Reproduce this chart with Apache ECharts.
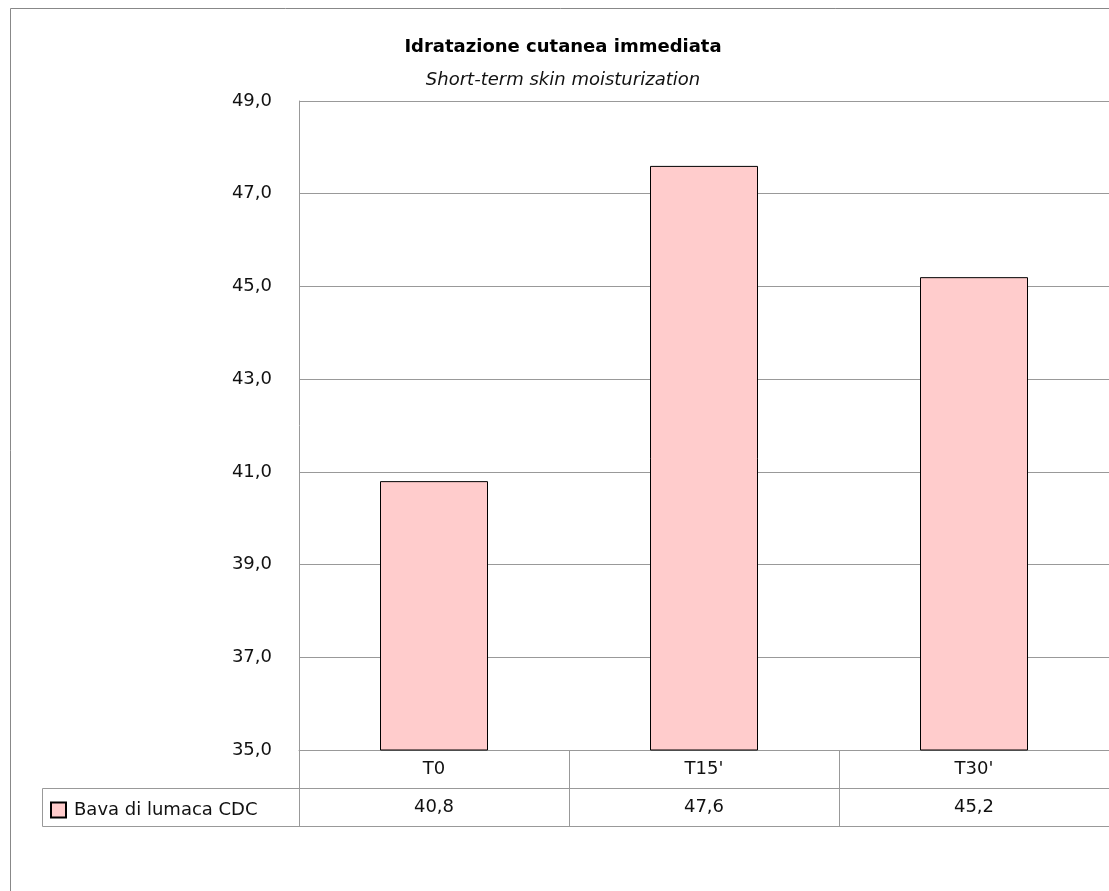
<!DOCTYPE html>
<html><head><meta charset="utf-8">
<script src="https://cdn.jsdelivr.net/npm/echarts@6/dist/echarts.min.js"></script>
<style>html,body{margin:0;padding:0;background:#fff}#c{width:1109px;height:891px}</style>
</head><body><div id="c"></div>
<script>
const titleText = 'Idratazione cutanea immediata';
const subtitleText = 'Short-term skin moisturization';
const seriesName = 'Bava di lumaca CDC';
const categories = ['T0', "T15'", "T30'"];
const values = [40.8, 47.6, 45.2];
const yMin = 35, yMax = 49, yStep = 2;
const fmt = v => v.toFixed(1).replace('.', ',');
const font = 'DejaVu Sans';
const fs = 18;

const chart = echarts.init(document.getElementById('c'));
chart.setOption({
  animation: false,
  backgroundColor: '#fff',
  title: [
    {text: titleText, left: 563, top: 37, textAlign: 'center', padding: 0,
     textStyle: {fontFamily: font, fontSize: fs, fontWeight: 'bold', color: '#000', lineHeight: 20}},
    {text: subtitleText, left: 563, top: 70, textAlign: 'center', padding: 0,
     textStyle: {fontFamily: font, fontSize: fs, fontStyle: 'italic', fontWeight: 'normal', color: '#111', lineHeight: 20}}
  ],
  legend: {
    left: 50, top: 801, padding: 0, icon: 'rect', itemWidth: 15, itemHeight: 15, itemGap: 4,
    textStyle: {fontFamily: font, fontSize: fs, color: '#111', padding: [0,0,0,3]},
    data: [seriesName]
  },
  grid: {left: 299, top: 101, width: 813, bottom: 141, containLabel: false},
  xAxis: [
    {type: 'category', data: categories, position: 'bottom',
     axisLine: {show: true, lineStyle: {color: '#999'}},
     axisTick: {show: true, length: 76, lineStyle: {color: '#999'}},
     axisLabel: {margin: 10, fontFamily: font, fontSize: fs, color: '#111'}},
    {type: 'category', data: values.map(fmt), position: 'bottom', offset: 38,
     axisLine: {show: true, lineStyle: {color: '#999'}},
     axisTick: {show: false},
     axisLabel: {margin: 10, fontFamily: font, fontSize: fs, color: '#111'}},
    {type: 'category', data: categories, position: 'bottom', offset: 76,
     axisLine: {show: true, lineStyle: {color: '#999'}},
     axisTick: {show: false}, axisLabel: {show: false}}
  ],
  yAxis: {
    type: 'value', min: yMin, max: yMax, interval: yStep,
    axisLine: {show: true, lineStyle: {color: '#999'}},
    axisTick: {show: false},
    axisLabel: {margin: 27, fontFamily: font, fontSize: fs, color: '#111', formatter: fmt},
    splitLine: {show: true, lineStyle: {color: '#999', width: 1}}
  },
  series: [{
    name: seriesName, type: 'bar', data: values, barWidth: '40%',
    itemStyle: {color: '#FFCCCC', borderColor: '#000', borderWidth: 1}
  }],
  graphic: [
    {type: 'rect', shape: {x: 10.5, y: 8.5, width: 1200, height: 1000},
     style: {fill: 'none', stroke: '#888', lineWidth: 1}, z: -10},
    {type: 'rect', shape: {x: 42.5, y: 788.5, width: 257, height: 38},
     style: {fill: 'none', stroke: '#999', lineWidth: 1}, z: -5}
  ]
});
</script></body></html>
